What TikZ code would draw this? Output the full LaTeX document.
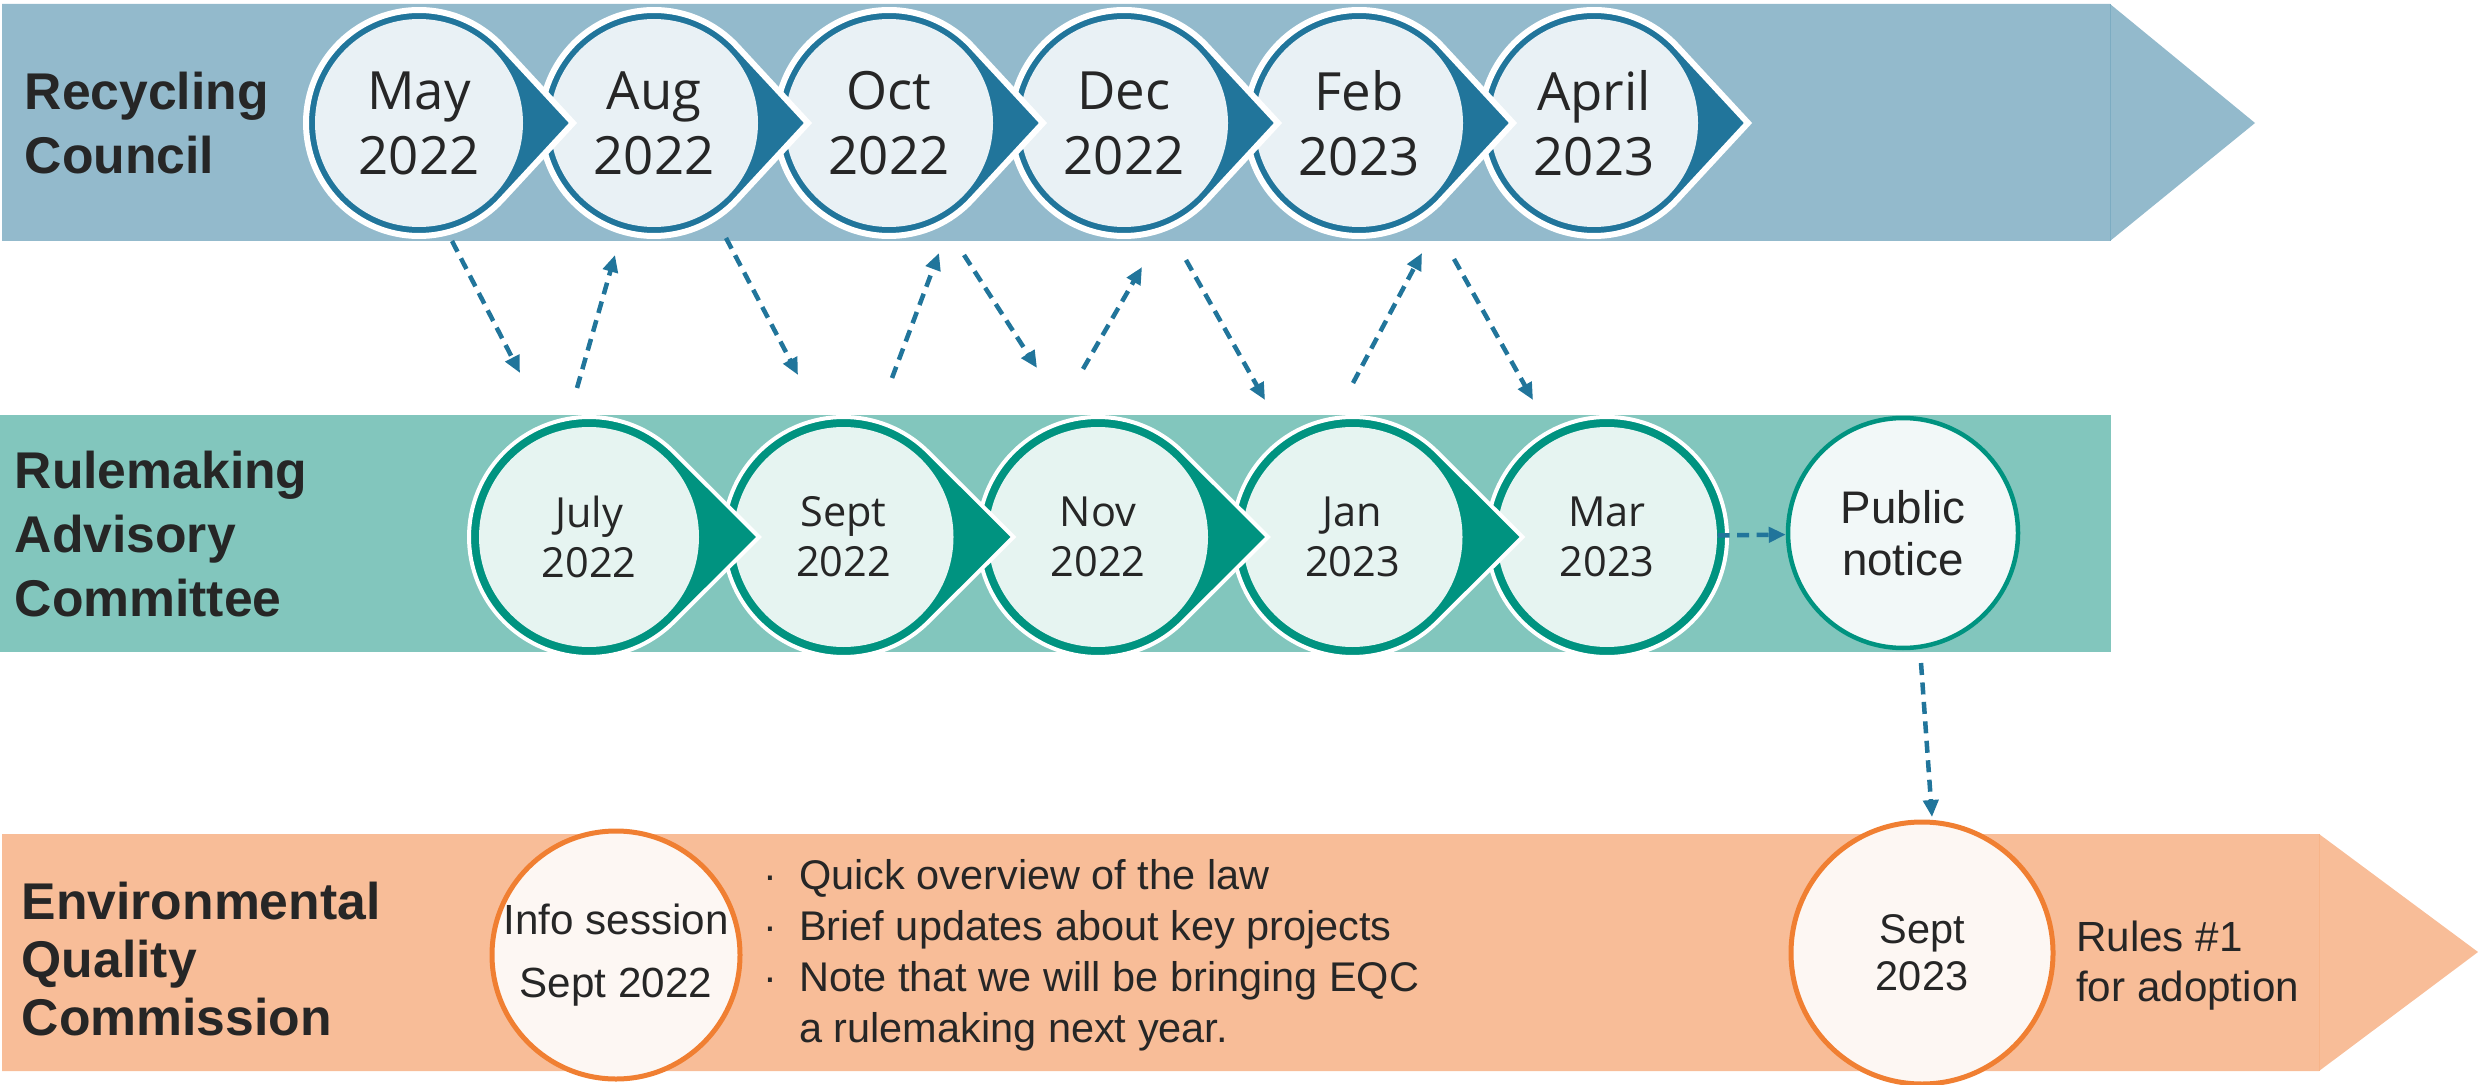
\documentclass[tikz,border=0pt]{standalone}
\usepackage{fontspec}
\setmainfont{Liberation Sans}
\newfontfamily\datefont{Open Sans}
\usepackage{tikz}
\usetikzlibrary{positioning,arrows.meta}

\definecolor{rcband}{HTML}{93BACC}
\definecolor{rcring}{HTML}{21759B}
\definecolor{rcfill}{HTML}{E9F1F5}
\definecolor{racband}{HTML}{82C6BD}
\definecolor{racring}{HTML}{009380}
\definecolor{racfill}{HTML}{E6F4F1}
\definecolor{pubfill}{HTML}{F2F8F8}
\definecolor{eqcband}{HTML}{F8BD98}
\definecolor{eqcring}{HTML}{F07F32}
\definecolor{eqcfill}{HTML}{FDF7F3}
\definecolor{txt}{HTML}{262626}

% pointed ring behind a date: centre, radius (mm), tip distance (mm), colour, white edge
\newcommand{\datedrop}[5]{%
  \pgfmathsetmacro{\dropang}{acos(#2/#3)}%
  \filldraw[fill=#4, draw=white, line width=#5]
    ([shift={(\dropang:#2mm)}]#1.center) -- ([xshift=#3mm]#1.center)
    -- ([shift={(-\dropang:#2mm)}]#1.center)
    arc[start angle=-\dropang, end angle=\dropang-360, radius=#2mm] -- cycle;}

\begin{document}
\begin{tikzpicture}[x=0.1mm, y=-0.1mm, text=txt,
    bandlabel/.style={anchor=west, align=left, inner sep=0pt, font=\bfseries\fontsize{14.7}{18.4}\selectfont},
    rcdate/.style={circle, fill=rcfill, minimum size=20.8mm, inner sep=0pt, align=center, font=\datefont\fontsize{15}{18.5}\selectfont},
    racdate/.style={circle, fill=racfill, minimum size=22mm, inner sep=0pt, align=center, font=\datefont\fontsize{11.8}{14.2}\selectfont},
    eqcdate/.style={circle, draw=eqcring, fill=eqcfill, line width=0.5mm, inner sep=0pt, align=center},
    link/.style={draw=rcring, line width=0.45mm, dash pattern=on 1.2mm off 0.75mm, -{Triangle[length=1.7mm,width=1.5mm]}}]

    \useasboundingbox (0,0) rectangle (2478,1085);

    % bands
    \fill[rcband] (2,4) -- (2110,4) -- (2255,123) -- (2110,241) -- (2,241) -- cycle;
    \draw[rcband!80!rcring, line width=0.1mm] (2110,4) -- (2110,241);
    \fill[racband] (0,415) rectangle (2111,652);
    \fill[eqcband] (2,834) -- (2319,834) -- (2478,952) -- (2319,1071) -- (2,1071) -- cycle;
    \draw[eqcband!85!eqcring, line width=0.1mm] (2319,834) -- (2319,1071);

    \node[bandlabel] (rc) at (24,123) {Recycling\\Council};
    \node[bandlabel, font=\bfseries\fontsize{14.7}{18.2}\selectfont] (rac) at (14,534) {Rulemaking\\Advisory\\Committee};
    \node[bandlabel, font=\bfseries\fontsize{14.7}{16.4}\selectfont] (eqc) at (21,959) {Environmental\\Quality\\Commission};

    % council dates, drawn right to left so each tip lies on the next ring
    \foreach \x/\n/\t in {1594/apr/{April\\2023}, 1359/feb/{Feb\\2023}, 1124/dec/{Dec\\2022},
                          889/oct/{Oct\\2022}, 654/aug/{Aug\\2022}, 419/may/{May\\2022}} {
        \coordinate (c) at (\x,123);
        \datedrop{c}{11.3}{15.4}{rcring}{0.6mm}
        \node[rcdate] (\n) at (c) {\t};
    }

    % committee dates
    \foreach \x/\n/\t/\d in {1607/mar/{Mar\\2023}/12.0, 1352.5/jan/{Jan\\2023}/17.0, 1098/nov/{Nov\\2022}/17.0,
                             843.5/sep/{Sept\\2022}/17.0, 589/jul/{July\\2022}/17.0} {
        \coordinate (c) at (\x,537);
        \datedrop{c}{12.0}{\d}{racring}{0.4mm}
        \node[racdate] (\n) at (c) {\t};
    }

    \node[circle, draw=racring, fill=pubfill, line width=0.45mm, minimum size=23mm, inner sep=0pt,
          align=center, font=\fontsize{13}{14.8}\selectfont] (pub) at (1903,533) {Public\\notice};

    \node[eqcdate, minimum size=24.8mm, font=\fontsize{12}{17.9}\selectfont] (info) at (616,955) {Info session\\Sept 2022};
    \node[right=2mm of info, align=left, inner sep=0pt, font=\fontsize{11.8}{14.5}\selectfont] (notes)
        {\makebox[3.6mm][l]{·}Quick overview of the law\\
         \makebox[3.6mm][l]{·}Brief updates about key projects\\
         \makebox[3.6mm][l]{·}Note that we will be bringing EQC\\
         \hspace*{3.6mm}a rulemaking next year.};
    \node[eqcdate, minimum size=26.2mm, font=\fontsize{11.8}{13.4}\selectfont] (s23) at (1922,953) {Sept\\2023};
    \node[right=2mm of s23, yshift=-1.3mm, align=left, inner sep=0pt, font=\fontsize{12}{14.2}\selectfont] (rules) {Rules \#1\\for adoption};

    % hand-offs between council and committee
    \draw[link] ([shift={(33,118)}]may.center) -- ([shift={(-69,-164)}]jul.center);
    \draw[link] ([shift={(-12,-149)}]jul.center) -- ([shift={(-39,132)}]aug.center);
    \draw[link] ([shift={(72,115)}]aug.center) -- ([shift={(-45.5,-162)}]sep.center);
    \draw[link] ([shift={(48.5,-159)}]sep.center) -- ([shift={(50,130)}]oct.center);
    \draw[link] ([shift={(75,132)}]oct.center) -- ([shift={(-61,-169)}]nov.center);
    \draw[link] ([shift={(-15,-168)}]nov.center) -- ([shift={(18,144)}]dec.center);
    \draw[link] ([shift={(62,137)}]dec.center) -- ([shift={(-87.5,-137)}]jan.center);
    \draw[link] ([shift={(0.5,-154)}]jan.center) -- ([shift={(63,130)}]feb.center);
    \draw[link] ([shift={(95,136)}]feb.center) -- ([shift={(-74,-137)}]mar.center);
    \draw[link] (mar) -- (pub);
    \draw[link] ([shift={(18,130)}]pub.center) -- ([shift={(10,-136)}]s23.center);
\end{tikzpicture}
\end{document}
